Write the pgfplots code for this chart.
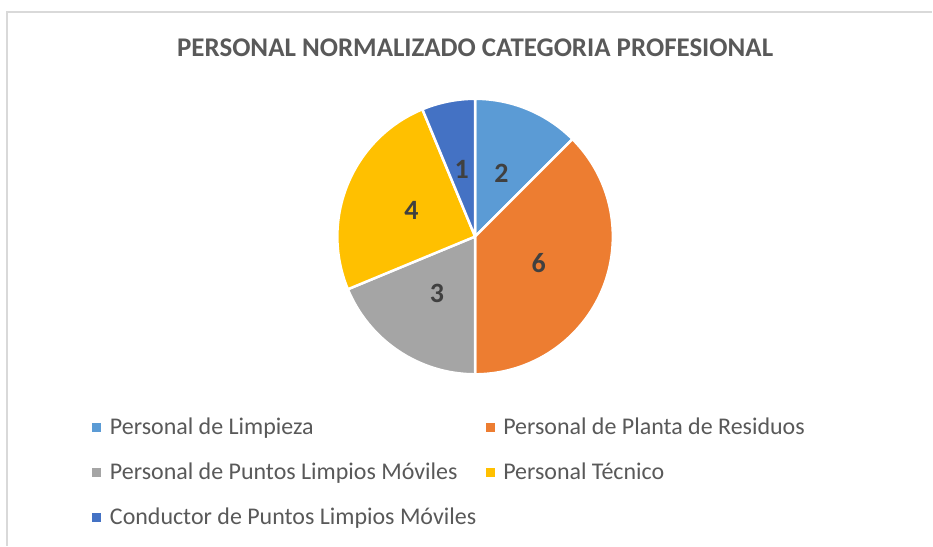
\documentclass[border=0pt]{standalone}
\usepackage{pgfplots}
\pgfplotsset{compat=1.18}
\usepackage{fontspec}
\setmainfont{Carlito}
\definecolor{c1}{HTML}{5B9BD5}
\definecolor{c2}{HTML}{ED7D31}
\definecolor{c3}{HTML}{A5A5A5}
\definecolor{c4}{HTML}{FFC000}
\definecolor{c5}{HTML}{4472C4}
\definecolor{txt}{HTML}{595959}
\definecolor{lbl}{HTML}{404040}
\definecolor{frame}{HTML}{D9D9D9}
\begin{document}
\begin{tikzpicture}
\begin{axis}[
    width=933pt, height=547pt, scale only axis,
    xmin=0, xmax=933, ymin=0, ymax=547,
    hide axis, clip=false
]
% chart frame (only top and left edges are inside the picture)
\draw[frame, line width=1.5pt] (axis cs:7,0) -- (axis cs:7,535) -- (axis cs:934,535);

\node[anchor=base, inner sep=0pt, text=txt, font=\fontsize{27}{32}\selectfont\bfseries]
    at (axis cs:476,490) {PERSONAL NORMALIZADO CATEGORIA PROFESIONAL};

% pie: values out of 16, clockwise from 12 o'clock
\foreach \v/\c [remember=\b as \a (initially 90)] in {2/c1, 6/c2, 3/c3, 4/c4, 1/c5} {
    \pgfmathsetmacro\b{\a-\v/16*360}
    \pgfmathsetmacro\m{(\a+\b)/2}
    \pgfmathsetmacro\lx{476+69*cos(\m)}
    \pgfmathsetmacro\ly{310+69*sin(\m)}
    \edef\slice{%
      \noexpand\fill[\c, draw=white, line width=2.5pt, line join=round]
        (axis cs:476,310) -- ++(\a:138pt) arc[start angle=\a, end angle=\b, radius=138pt] -- cycle;
      \noexpand\node[text=lbl, font=\noexpand\fontsize{28}{32}\noexpand\selectfont\noexpand\bfseries]
        at (axis cs:\lx,\ly) {\v};
    }
    \slice
}

% legend
\fill[c1] (axis cs:92.5,114) rectangle (axis cs:101.5,123);
\node[anchor=base west, inner sep=0pt, text=txt, font=\fontsize{24}{28}\selectfont] at (axis cs:110,112) {Personal de Limpieza};
\fill[c2] (axis cs:486.5,114) rectangle (axis cs:495.5,123);
\node[anchor=base west, inner sep=0pt, text=txt, font=\fontsize{24}{28}\selectfont] at (axis cs:504,112) {Personal de Planta de Residuos};
\fill[c3] (axis cs:92.5,69) rectangle (axis cs:101.5,78);
\node[anchor=base west, inner sep=0pt, text=txt, font=\fontsize{24}{28}\selectfont] at (axis cs:110,67) {Personal de Puntos Limpios Móviles};
\fill[c4] (axis cs:486.5,69) rectangle (axis cs:495.5,78);
\node[anchor=base west, inner sep=0pt, text=txt, font=\fontsize{24}{28}\selectfont] at (axis cs:504,67) {Personal Técnico};
\fill[c5] (axis cs:92.5,24) rectangle (axis cs:101.5,33);
\node[anchor=base west, inner sep=0pt, text=txt, font=\fontsize{24}{28}\selectfont] at (axis cs:110,22) {Conductor de Puntos Limpios Móviles};

\end{axis}
\useasboundingbox (0,0) rectangle (933pt,547pt);
\end{tikzpicture}
\end{document}
